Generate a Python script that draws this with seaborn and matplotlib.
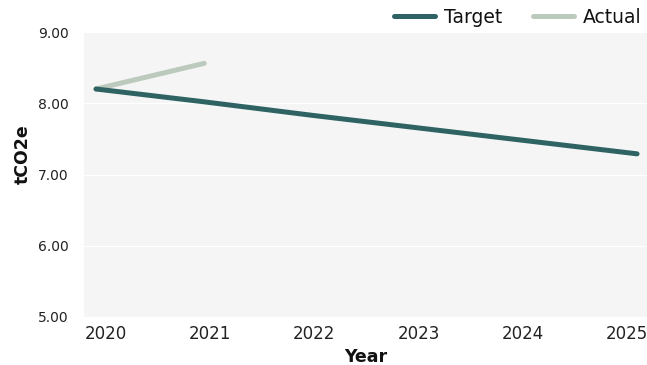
import matplotlib
matplotlib.use("Agg")
import matplotlib.pyplot as plt
import matplotlib.transforms as mtransforms
from matplotlib.lines import Line2D
import seaborn as sns
import pandas as pd

# Data
target_years = [2020, 2021, 2022, 2023, 2024, 2025]
target_values = [8.20, 8.02, 7.83, 7.65, 7.47, 7.29]
actual_years = [2020, 2021]
actual_values = [8.20, 8.56]
x_ticks = [2020, 2021, 2022, 2023, 2024, 2025]
y_ticks = [5, 6, 7, 8, 9]

df = pd.concat([
    pd.DataFrame({"Year": target_years, "tCO2e": target_values, "Series": "Target"}),
    pd.DataFrame({"Year": actual_years, "tCO2e": actual_values, "Series": "Actual"}),
], ignore_index=True)

sns.set_theme(style="white")
plt.rcParams["font.family"] = ["DejaVu Sans"]

fig = plt.figure(figsize=(6.47, 3.65), dpi=100)
ax = fig.add_axes([84 / 647, 48 / 365, 1 - 84 / 647, (317 - 32) / 365])
ax.set_facecolor("#f5f5f5")

palette = {"Target": "#2f6363", "Actual": "#bccabe"}
sns.lineplot(data=df, x="Year", y="tCO2e", hue="Series", hue_order=["Actual", "Target"],
             palette=palette, linewidth=3.6, ax=ax, legend=False, sort=False)
for ln in ax.lines:
    ln.set_solid_capstyle("round")

ax.set_xlim(2019.889, 2025.092)
ax.set_ylim(5, 9)
ax.set_yticks(y_ticks)
ax.set_yticklabels([f"{v:.2f}" for v in y_ticks], fontsize=10, color="#222222")
ax.set_xticks(x_ticks)
ax.set_xticklabels([str(v) for v in x_ticks], fontsize=12, color="#222222")
ax.tick_params(axis="y", length=0, pad=11)
ax.tick_params(axis="x", length=0, pad=6)
shifts = [10, 6, 2, -2, -6, -10]
for lab, s in zip(ax.get_xticklabels(), shifts):
    lab.set_transform(lab.get_transform() + mtransforms.ScaledTranslation(s / 100, 0, fig.dpi_scale_trans))

ax.grid(axis="y", color="white", linewidth=1.0)
ax.grid(axis="x", visible=False)
for sp in ax.spines.values():
    sp.set_visible(False)

ax.set_xlabel("Year", fontsize=12.5, fontweight="bold", color="#111111")
ax.xaxis.set_label_coords(0.5, -0.108)
ax.xaxis.label.set_va("top")
ax.set_ylabel("tCO2e", fontsize=12.5, fontweight="bold", color="#111111")
ax.yaxis.set_label_coords(-0.092, 0.572)

handles = [Line2D([], [], color=palette["Target"], linewidth=3.6, solid_capstyle="round"),
           Line2D([], [], color=palette["Actual"], linewidth=3.6, solid_capstyle="round")]
leg = fig.legend(handles, ["Target", "Actual"], loc="center right", bbox_to_anchor=(0.992, 0.953),
                 ncol=2, frameon=False, fontsize=13.5, handlelength=2.2, handletextpad=0.5,
                 columnspacing=1.6, borderaxespad=0, borderpad=0)
for t in leg.get_texts():
    t.set_color("#111111")

fig.savefig("out.png", dpi=100)
